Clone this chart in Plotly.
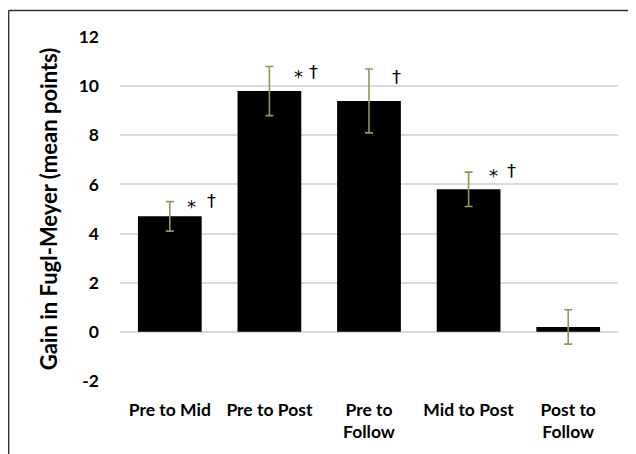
import plotly.graph_objects as go

categories = ["Pre to Mid", "Pre to Post", "Pre to<br>Follow", "Mid to Post", "Post to<br>Follow"]
gains = [4.7, 9.8, 9.4, 5.8, 0.2]
errors = [0.6, 1.0, 1.3, 0.7, 0.7]
star_marks = [True, True, False, True, False]
dagger_marks = [True, True, True, True, False]
y_ticks = [-2, 0, 2, 4, 6, 8, 10, 12]
y_tick_labels = ["-2", "0", "2", "4", "6", "8", "10", "12"]

x_idx = list(range(len(categories)))

fig = go.Figure()
fig.add_trace(go.Bar(
    x=x_idx, y=gains,
    marker=dict(color="black", line=dict(width=0)),
    width=0.64,
    error_y=dict(type="data", array=errors, visible=True, color="#8A9A5B", thickness=1.6, width=4),
))

ann = []
star_dx = [0.22, 0.29, 0.28, 0.25, 0]
star_dy = [0.40, 0.60, 0.60, 0.58, 0]
dag_dx = [0.42, 0.44, 0.28, 0.43, 0]
dag_dy = [0.63, 0.80, 0.98, 0.76, 0]
for i in x_idx:
    if star_marks[i]:
        ann.append(dict(x=i + star_dx[i], y=gains[i] + star_dy[i], text="*", showarrow=False,
                        font=dict(family="DejaVu Sans", size=18, color="#000000")))
    if dagger_marks[i]:
        ann.append(dict(x=i + dag_dx[i], y=gains[i] + dag_dy[i], text="†", showarrow=False,
                        font=dict(family="DejaVu Sans", size=18, color="#000000")))

# page body has an 8px margin, so the figure is drawn 8px smaller
W, H = 628, 446
ml, mr, mt, mb = 112, 17.5, 29, 73
pw, ph = W - ml - mr, H - mt - mb
bx0 = (0.5 - ml) / pw
by1 = 1 + (mt - 2.5) / ph

fig.update_layout(
    width=W, height=H,
    margin=dict(l=ml, r=mr, t=mt, b=mb),
    paper_bgcolor="white", plot_bgcolor="white",
    showlegend=False,
    bargap=0.36,
    font=dict(family="Lato", color="black"),
    xaxis=dict(
        tickmode="array", tickvals=x_idx, ticktext=categories,
        range=[-0.5, len(categories) - 0.5],
        showgrid=False, zeroline=False, showline=False,
        tickfont=dict(family="Lato", size=17.5, color="black", weight="bold"),
        ticks="", ticklabelstandoff=16,
    ),
    yaxis=dict(
        range=[-2, 12], tickmode="array", tickvals=y_ticks, ticktext=y_tick_labels,
        showgrid=True, gridcolor="#D9D9D9", gridwidth=1.5,
        zeroline=True, zerolinecolor="#D9D9D9", zerolinewidth=1.5,
        showline=False,
        tickfont=dict(family="Lato", size=17.5, color="black", weight="bold"),
        ticks="", ticklabelstandoff=20,
        title=dict(text="Gain in Fugl-Meyer (mean points)", standoff=14,
                   font=dict(family="Lato", size=22, color="black", weight="bold")),
    ),
    annotations=ann,
    shapes=[
        dict(type="line", xref="paper", yref="paper", x0=bx0, x1=1.2, y0=by1, y1=by1,
             line=dict(color="#333333", width=1.5)),
        dict(type="line", xref="paper", yref="paper", x0=bx0, x1=bx0, y0=-0.3, y1=by1,
             line=dict(color="#333333", width=1.5)),
    ],
)

fig.write_html("out.html")
